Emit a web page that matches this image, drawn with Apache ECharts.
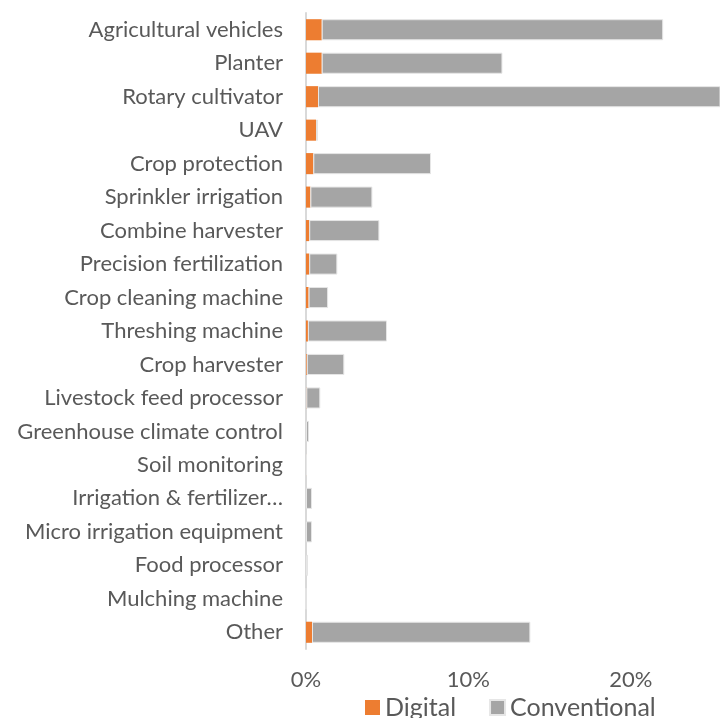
<!DOCTYPE html>
<html>
<head>
<meta charset="utf-8">
<script src="https://cdn.jsdelivr.net/npm/echarts@6/dist/echarts.min.js"></script>
<style>
html,body{margin:0;padding:0;background:#fff;}
#chart{width:720px;height:718px;}
</style>
</head>
<body>
<div id="chart"></div>
<script>
const categories = [
  "Agricultural vehicles", "Planter", "Rotary cultivator", "UAV", "Crop protection",
  "Sprinkler irrigation", "Combine harvester", "Precision fertilization", "Crop cleaning machine",
  "Threshing machine", "Crop harvester", "Livestock feed processor", "Greenhouse climate control",
  "Soil monitoring", "Irrigation & fertilizer…", "Micro irrigation equipment", "Food processor",
  "Mulching machine", "Other"
];
const digital = [0.97, 0.97, 0.74, 0.62, 0.45, 0.27, 0.20, 0.20, 0.16, 0.12, 0.05, 0.02, 0.0, 0.03, 0.0, 0.0, 0.0, 0.0, 0.37];
const conventional = [21.03, 11.13, 27.0, 0.12, 7.25, 3.82, 4.32, 1.73, 1.20, 4.87, 2.31, 0.86, 0.18, 0.0, 0.37, 0.37, 0.12, 0.0, 13.45];
const xTicks = [0, 10, 20];
const seriesNames = ["Digital", "Conventional"];

const font = "Lato";
const chart = echarts.init(document.getElementById('chart'));
chart.setOption({
  animation: false,
  grid: { left: 306, right: 0, top: 13, bottom: 69, containLabel: false },
  legend: {
    data: seriesNames,
    left: 365, top: 695, padding: 0,
    itemWidth: 15, itemHeight: 15, itemGap: 33,
    textStyle: { fontFamily: font, fontSize: 25, color: '#595959' },
    icon: 'rect'
  },
  xAxis: {
    type: 'value', min: 0, max: 25.5, interval: 10,
    axisLine: { show: false }, axisTick: { show: false },
    splitLine: { show: false },
    axisLabel: {
      margin: 20, fontFamily: font, fontSize: 22, color: '#595959',
      showMaxLabel: false,
      formatter: v => xTicks.includes(v) ? v + '%' : ''
    }
  },
  yAxis: {
    type: 'category', data: categories, inverse: true,
    axisLine: { show: true, lineStyle: { color: '#d9d9d9', width: 2 } },
    axisTick: { show: false },
    axisLabel: { margin: 23, fontFamily: font, fontSize: 22, color: '#595959' }
  },
  series: [
    { name: seriesNames[0], type: 'bar', stack: 'a', data: digital, barCategoryGap: '37%',
      itemStyle: { color: '#ED7D31' } },
    { name: seriesNames[1], type: 'bar', stack: 'a', data: conventional,
      itemStyle: { color: '#A5A5A5', borderColor: '#e6e6e6', borderWidth: 1 } }
  ]
});
</script>
</body>
</html>
